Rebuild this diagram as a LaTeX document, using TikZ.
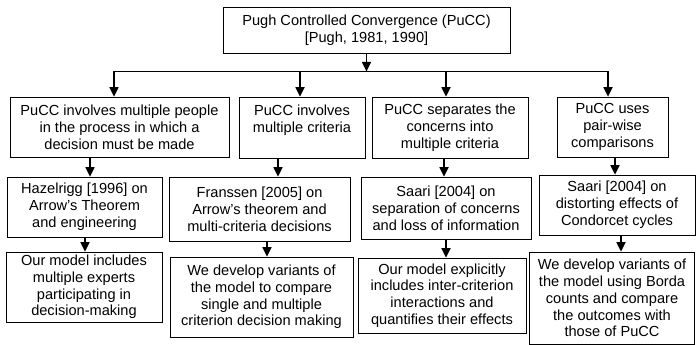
\documentclass[tikz,border=0pt]{standalone}
\usepackage{fontspec}
\setmainfont{Liberation Sans}
\usetikzlibrary{arrows.meta}
\begin{document}
\begin{tikzpicture}[
  x=1pt, y=-1pt,
  box/.style={draw, line width=0.8pt, align=center, inner sep=0pt,
    font=\fontsize{14.6}{16.8}\selectfont},
  arr/.style={line width=1.7pt, -{Triangle[width=9pt,length=9.5pt]}},
  bus/.style={line width=0.9pt}
]
  \useasboundingbox (0,0) rectangle (696,345);
  \node[box, minimum width=287, minimum height=46] (pucc) at (366.5,30)
    {Pugh Controlled Convergence (PuCC)\\{[Pugh, 1981, 1990]}};

  \node[box, minimum width=219, minimum height=60] (people) at (119.5,127)
    {PuCC involves multiple people\\in the process in which a\\decision must be made};
  \node[box, minimum width=126, minimum height=61] (criteria) at (302,127.5)
    {PuCC involves\\multiple criteria\\\mbox{}};
  \node[box, minimum width=156, minimum height=61] (concerns) at (450,127.5)
    {PuCC separates the\\concerns into\\multiple criteria};
  \node[box, minimum width=111, minimum height=60] (pairwise) at (612.5,127)
    {PuCC uses\\pair-wise\\comparisons};

  \node[box, minimum width=155, minimum height=60] (hazelrigg) at (84.5,207)
    {Hazelrigg [1996] on\\Arrow's Theorem\\and engineering};
  \node[box, minimum width=181, minimum height=64] (franssen) at (259.5,209)
    {Franssen [2005] on\\Arrow's theorem and\\multi-criteria decisions};
  \node[box, minimum width=170, minimum height=62] (saarisep) at (446,208)
    {Saari [2004] on\\separation of concerns\\and loss of information};
  \node[box, minimum width=156, minimum height=60] (saaricyc) at (617,205)
    {Saari [2004] on\\distorting effects of\\Condorcet cycles};

  \node[box, minimum width=156, minimum height=70] (experts) at (84,287)
    {Our model includes\\multiple experts\\participating in\\decision-making};
  \node[box, minimum width=183, minimum height=80] (single) at (261.5,297)
    {We develop variants of\\the model to compare\\single and multiple\\criterion decision making};
  \node[box, minimum width=168, minimum height=75] (inter) at (442,295.5)
    {Our model explicitly\\includes inter-criterion\\interactions and\\quantifies their effects};
  \node[box, minimum width=165, minimum height=92] (borda) at (612,298)
    {We develop variants of\\the model using Borda\\counts and compare\\the outcomes with\\those of PuCC};

  \coordinate (b1) at (114,71.5);
  \coordinate (b2) at (300,71.5);
  \coordinate (b3) at (446,71.5);
  \coordinate (b4) at (608,71.5);
  \draw[bus] (b1) -- (b4);
  \draw[arr] (pucc.south) -- (pucc.south |- b1);
  \draw[arr] (b1) -- (b1 |- people.north);
  \draw[arr] (b2) -- (b2 |- criteria.north);
  \draw[arr] (b3) -- (b3 |- concerns.north);
  \draw[arr] (b4) -- (b4 |- pairwise.north);

  \draw[arr] (people.south -| 90,0) -- (hazelrigg.north -| 90,0);
  \draw[arr] (criteria.south -| 278,0) -- (franssen.north -| 278,0);
  \draw[arr] (concerns.south -| 444,0) -- (saarisep.north -| 444,0);
  \draw[arr] (pairwise.south -| 615,0) -- (saaricyc.north -| 615,0);

  \draw[arr] (hazelrigg.south -| 85,0) -- (experts.north -| 85,0);
  \draw[arr] (franssen.south -| 267,0) -- (single.north -| 267,0);
  \draw[arr] (saarisep.south -| 446,0) -- (inter.north -| 446,0);
  \draw[arr] (saaricyc.south -| 621,0) -- (borda.north -| 621,0);
\end{tikzpicture}
\end{document}
